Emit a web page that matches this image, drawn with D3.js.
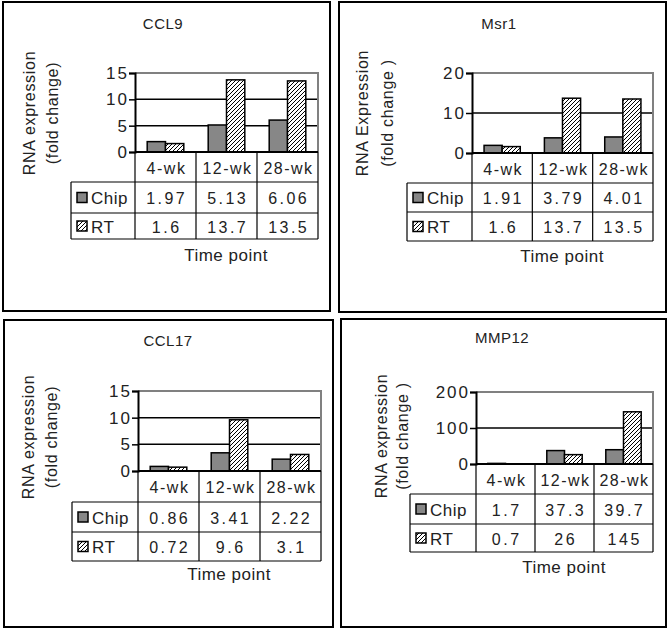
<!DOCTYPE html>
<html><head><meta charset="utf-8">
<script src="https://cdn.jsdelivr.net/npm/d3@7"></script>
<style>
html,body{margin:0;padding:0;background:#fff;}
svg{display:block;}
text{font-family:"Liberation Sans",Arial,sans-serif;fill:#222;}
</style></head>
<body>
<svg id="chart" width="669" height="632"></svg>
<script>
// ---- data ----
const categories = ["4-wk", "12-wk", "28-wk"];
const seriesNames = ["Chip", "RT"];
const titles = ["CCL9", "Msr1", "CCL17", "MMP12"];
const yLabels = [
  ["RNA expression", "(fold change)"],
  ["RNA Expression", "(fold change )"],
  ["RNA expression", "(fold change)"],
  ["RNA expression", "(fold change )"]
];
const ccl9Chip = [1.97, 5.13, 6.06];
const ccl9RT = [1.6, 13.7, 13.5];
const msr1Chip = [1.91, 3.79, 4.01];
const msr1RT = [1.6, 13.7, 13.5];
const ccl17Chip = [0.86, 3.41, 2.22];
const ccl17RT = [0.72, 9.6, 3.1];
const mmp12Chip = [1.7, 37.3, 39.7];
const mmp12RT = [0.7, 26, 145];
const ccl9Ticks = [0, 5, 10, 15];
const msr1Ticks = [0, 10, 20];
const ccl17Ticks = [0, 5, 10, 15];
const mmp12Ticks = [0, 100, 200];
const xAxisTitle = "Time point";

// ---- layout (positions only) ----
const layouts = [
  {box:[3,2,330,311], x0:135, x1:318, yTop:73, y0:152, tLeft:71, rows:[152,182,213,239], title:[163,23], time:[226,255], yl:[29,52], ylc:113},
  {box:[339,2,666,312], x0:472, x1:653, yTop:73, y0:153, tLeft:407, rows:[153,183,212,241], title:[499,23], time:[562,256], yl:[362,387], ylc:113},
  {box:[4,320,333,627], x0:138, x1:321, yTop:391, y0:471, tLeft:72, rows:[471,502,532,561], title:[168,340], time:[229,574], yl:[28,51], ylc:437},
  {box:[341,319,666,627], x0:476, x1:653, yTop:392, y0:464, tLeft:410, rows:[464,494,524,552], title:[502,337], time:[564,567], yl:[381,402], ylc:436}
];

const panels = [
  {chip: ccl9Chip, rt: ccl9RT, ticks: ccl9Ticks},
  {chip: msr1Chip, rt: msr1RT, ticks: msr1Ticks},
  {chip: ccl17Chip, rt: ccl17RT, ticks: ccl17Ticks},
  {chip: mmp12Chip, rt: mmp12RT, ticks: mmp12Ticks}
];

const svg = d3.select("#chart");
const defs = svg.append("defs");
const pat = defs.append("pattern").attr("id","hatch").attr("patternUnits","userSpaceOnUse")
  .attr("width",4).attr("height",4);
pat.append("rect").attr("width",4).attr("height",4).attr("fill","#fff");
pat.append("path").attr("d","M-1,1 l2,-2 M0,4 l4,-4 M3,5 l2,-2").attr("stroke","#000").attr("stroke-width",1);

const fills = {Chip:"#878787", RT:"url(#hatch)"};
const FS = 16;

panels.forEach((p, i) => {
  const L = layouts[i];
  const g = svg.append("g");
  // frame
  g.append("rect").attr("x",L.box[0]).attr("y",L.box[1])
    .attr("width",L.box[2]-L.box[0]).attr("height",L.box[3]-L.box[1])
    .attr("fill","#fff").attr("stroke","#000").attr("stroke-width",2);

  const x = d3.scaleBand().domain(categories).range([L.x0, L.x1]);
  const bw = x.bandwidth();
  const xs = d3.scaleBand().domain(seriesNames).range([0.2*bw, 0.8*bw]);
  const yMax = d3.max(p.ticks);
  const y = d3.scaleLinear().domain([0, yMax]).range([L.y0, L.yTop]);

  // title
  g.append("text").attr("x",L.title[0]).attr("y",L.title[1]).attr("text-anchor","middle")
    .attr("dominant-baseline","central").style("font-size","15px").style("letter-spacing","0.5px").text(titles[i]);

  // gridlines (inner black) + plot border top/right grey
  g.selectAll("line.grid").data(p.ticks.filter(t => t > 0 && t < yMax)).join("line")
    .attr("x1",L.x0).attr("x2",L.x1).attr("y1",d=>y(d)).attr("y2",d=>y(d))
    .attr("stroke","#000").attr("stroke-width",1.5);
  g.append("path").attr("d",`M${L.x0},${y(yMax)}H${L.x1}V${L.y0}`)
    .attr("fill","none").attr("stroke","#808080").attr("stroke-width",2);

  // bars
  const rows = [];
  categories.forEach((c, ci) => {
    rows.push({cat:c, s:"Chip", v:p.chip[ci]});
    rows.push({cat:c, s:"RT", v:p.rt[ci]});
  });
  g.selectAll("rect.bar").data(rows).join("rect")
    .attr("x", d => x(d.cat) + xs(d.s)).attr("width", xs.bandwidth())
    .attr("y", d => y(d.v)).attr("height", d => L.y0 - y(d.v))
    .attr("fill", d => fills[d.s]).attr("stroke","#000").attr("stroke-width",1.5);

  // y axis
  const ax = g.append("g").attr("transform",`translate(${L.x0},0)`)
    .call(d3.axisLeft(y).tickValues(p.ticks).tickSize(6).tickPadding(0));
  ax.select(".domain").attr("stroke","#000").attr("stroke-width",2);
  ax.selectAll(".tick line").attr("stroke","#000").attr("stroke-width",1.5);
  ax.selectAll(".tick text").style("font-size","17px").style("letter-spacing","2px").attr("fill","#222")
    .style("font-family","'Liberation Sans',Arial,sans-serif");

  // data table
  const tl = L.tLeft, r = L.rows;
  const tg = g.append("g").attr("stroke","#000").attr("stroke-width",1.2);
  tg.append("line").attr("x1",L.x0).attr("x2",L.x1).attr("y1",r[0]).attr("y2",r[0]).attr("stroke-width",2);
  [1,2,3].forEach(k => tg.append("line").attr("x1",tl).attr("x2",L.x1).attr("y1",r[k]).attr("y2",r[k]));
  tg.append("line").attr("x1",tl).attr("x2",tl).attr("y1",r[1]).attr("y2",r[3]);
  categories.forEach(c => {
    tg.append("line").attr("x1",x(c)).attr("x2",x(c)).attr("y1",r[0]).attr("y2",r[3]);
  });
  tg.append("line").attr("x1",L.x1).attr("x2",L.x1).attr("y1",r[0]).attr("y2",r[3]);

  // header labels
  g.selectAll("text.cat").data(categories).join("text")
    .attr("x", d => x(d) + bw/2 + 1).attr("y",(r[0]+r[1])/2 + 1)
    .attr("text-anchor","middle").attr("dominant-baseline","central")
    .style("font-size",FS+"px").style("letter-spacing","1.5px").text(d => d);

  // series rows
  seriesNames.forEach((s, si) => {
    const cy = (r[si+1] + r[si+2]) / 2;
    g.append("rect").attr("x",tl+6).attr("y",cy-5).attr("width",10).attr("height",10)
      .attr("fill",fills[s]).attr("stroke","#000").attr("stroke-width",1.5);
    g.append("text").attr("x",tl+20).attr("y",cy+1).attr("dominant-baseline","central")
      .style("font-size","17px").style("letter-spacing","0.5px").text(s);
    const vals = s === "Chip" ? p.chip : p.rt;
    g.selectAll(null).data(categories).join("text")
      .attr("x", d => x(d) + bw/2 + 1.2).attr("y", cy+1)
      .attr("text-anchor","middle").attr("dominant-baseline","central")
      .style("font-size",FS+"px").style("letter-spacing","2.5px")
      .text((d, ci) => String(vals[ci]));
  });

  // x-axis title
  g.append("text").attr("x",L.time[0]).attr("y",L.time[1]).attr("text-anchor","middle")
    .attr("dominant-baseline","central").style("font-size","17px").style("letter-spacing","0.5px")
    .text(xAxisTitle);

  // y-axis title (two rotated lines)
  yLabels[i].forEach((t, k) => {
    g.append("text").attr("transform",`translate(${L.yl[k]},${L.ylc}) rotate(-90)`)
      .attr("text-anchor","middle").attr("dominant-baseline","central")
      .style("font-size","16px").style("letter-spacing","0.7px").text(t);
  });
});
</script>
</body></html>
